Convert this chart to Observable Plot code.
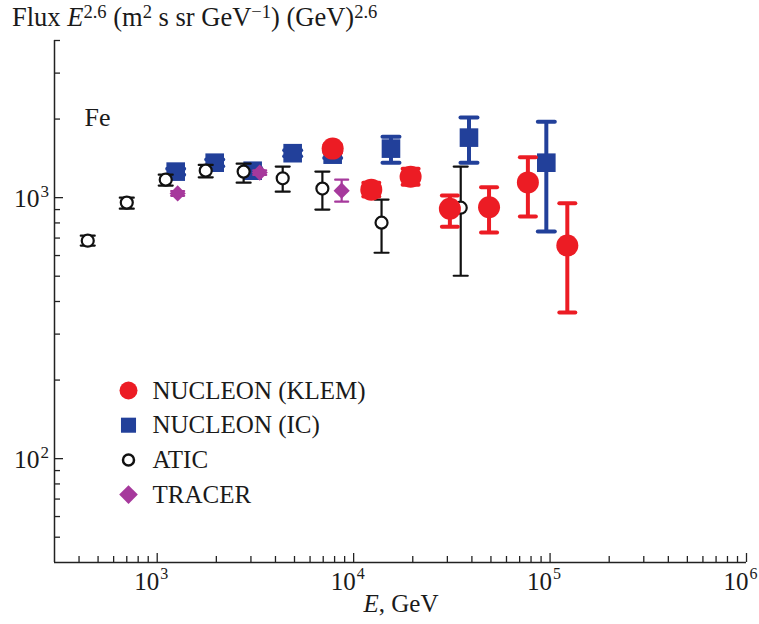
<!DOCTYPE html>
<html><head><meta charset="utf-8">
<script src="https://cdn.jsdelivr.net/npm/d3@7"></script>
<script src="https://cdn.jsdelivr.net/npm/@observablehq/plot@0.6"></script>
<style>
body{margin:0;background:#fff;}
#wrap{position:relative;width:759px;height:624px;font-family:"Liberation Serif",serif;color:#1a1a1a;overflow:hidden;}
#chart svg{display:block;}
#title{position:absolute;left:12px;top:4px;font-size:26.5px;line-height:1;white-space:nowrap;}
#xlabel{position:absolute;left:401px;top:591px;transform:translateX(-50%);font-size:25px;line-height:1;white-space:nowrap;}
sup{font-size:0.7em;vertical-align:0.45em;line-height:0;}
</style></head><body>
<div id="wrap">
 <div id="chart"></div>
 <div id="title">Flux <i>E</i><sup>2.6</sup> (m<sup>2</sup> s sr GeV<sup>−1</sup>) (GeV)<sup>2.6</sup></div>
 <div id="xlabel"><i>E</i>, GeV</div>
</div>
<script>
// NUCLEON (KLEM)
const klemE  = [7820, 12300, 19500, 30900, 48900, 77100, 122400];
const klemF  = [1541, 1073, 1203, 907, 918, 1144, 655];
const klemHi = [1600, 1140, 1290, 1018, 1095, 1427, 951];
const klemLo = [1480, 1010, 1120, 774, 736, 846, 363];
// NUCLEON (IC)
const icE  = [1242, 1962, 3061, 4893, 7820, 15490, 38650, 95700];
const icF  = [1258, 1361, 1268, 1480, 1461, 1541, 1698, 1361];
const icHi = [1290, 1400, 1300, 1520, 1500, 1713, 2026, 1954];
const icLo = [1225, 1320, 1235, 1440, 1420, 1361, 1361, 741];
// ATIC
const aticE  = [443, 700, 1105, 1766, 2754, 4354, 6932, 13870, 35090];
const aticF  = [684, 957, 1172, 1269, 1258, 1186, 1083, 802, 915];
const aticHi = [715, 1000, 1225, 1335, 1349, 1315, 1258, 983, 1315];
const aticLo = [655, 907, 1112, 1196, 1141, 1054, 900, 615, 502];
// TRACER
const tracerE  = [1271, 3325, 8690];
const tracerF  = [1038, 1247, 1063];
const tracerHi = [1060, 1272, 1172];
const tracerLo = [1016, 1222, 965];

const legendLabels = ["NUCLEON (KLEM)", "NUCLEON (IC)", "ATIC", "TRACER"];
const xMajor = [1e3, 1e4, 1e5, 1e6];
const xMajorExp = ["3", "4", "5", "6"];
const xMinor = [400,500,600,700,800,900, 2000,3000,4000,5000,6000,7000,8000,9000,
  2e4,3e4,4e4,5e4,6e4,7e4,8e4,9e4, 2e5,3e5,4e5,5e5,6e5,7e5,8e5,9e5];
const yMajor = [100, 1000];
const yMajorExp = ["2", "3"];
const yMinor = [50,60,70,80,90, 200,300,400,500,600,700,800,900, 2000,3000,4000];

const rows = (E, F, hi, lo) => E.map((e, i) => ({E: e, F: F[i], hi: hi[i], lo: lo[i]}));
const klem = rows(klemE, klemF, klemHi, klemLo);
const ic = rows(icE, icF, icHi, icLo);
const atic = rows(aticE, aticF, aticHi, aticLo);
const tracer = rows(tracerE, tracerF, tracerHi, tracerLo);

const RED = "#ec1c24", BLUE = "#22409a", PURPLE = "#a6399c", BLACK = "#111";
const cap = {draw(ctx, size) { const w = Math.sqrt(size / Math.PI); ctx.moveTo(-w, 0); ctx.lineTo(w, 0); }};

function errs(data, color, sw, capR) {
  return [
    Plot.ruleX(data, {x: "E", y1: "lo", y2: "hi", stroke: color, strokeWidth: sw}),
    Plot.dot(data, {x: "E", y: "hi", symbol: cap, r: capR, stroke: color, strokeWidth: sw, fill: "none", strokeLinecap: "round"}),
    Plot.dot(data, {x: "E", y: "lo", symbol: cap, r: capR, stroke: color, strokeWidth: sw, fill: "none", strokeLinecap: "round"})
  ];
}

const legendStyles = [
  {symbol: "circle", r: 9, fill: RED, stroke: "none"},
  {symbol: "square", r: 8.5, fill: BLUE, stroke: "none"},
  {symbol: "circle", r: 5.5, fill: "white", stroke: BLACK, strokeWidth: 2.5},
  {symbol: "diamond2", r: 8.4, fill: PURPLE, stroke: "none"}
];
const legendMarks = legendLabels.flatMap((lab, i) => [
  Plot.dot([lab], {frameAnchor: "top-left", dx: 74, dy: 350 + i * 34.7, ...legendStyles[i]}),
  Plot.text([lab], {text: d => d, frameAnchor: "top-left", dx: 98, dy: 350 + i * 34.7, textAnchor: "start", lineAnchor: "middle", fontSize: 25, fill: "#1a1a1a"})
]);

const chart = Plot.plot({
  width: 759, height: 624,
  marginLeft: 54, marginRight: 13, marginTop: 40, marginBottom: 62,
  style: {fontFamily: "'Liberation Serif', serif", fontSize: "24px", color: "#1a1a1a", background: "white", overflow: "visible"},
  x: {type: "log", domain: [300, 1e6], axis: null, label: null},
  y: {type: "log", domain: [40, 4000], axis: null, label: null},
  marks: [
    Plot.axisX(xMinor, {anchor: "bottom", tickSize: -6, tickFormat: () => "", label: null, stroke: "#222", strokeWidth: 1.3}),
    Plot.axisX(xMajor, {anchor: "bottom", tickSize: -9, tickFormat: () => "", label: null, stroke: "#222", strokeWidth: 1.3}),
    Plot.axisY(yMinor, {anchor: "left", tickSize: -6, tickFormat: () => "", label: null, stroke: "#222", strokeWidth: 1.3}),
    Plot.axisY(yMajor, {anchor: "left", tickSize: -9, tickFormat: () => "", label: null, stroke: "#222", strokeWidth: 1.3}),
    Plot.ruleX([300], {stroke: "#222", strokeWidth: 1.5}),
    Plot.ruleY([40], {stroke: "#222", strokeWidth: 1.5}),
    Plot.text(xMajor, {x: d => d, text: () => "10", frameAnchor: "bottom", dy: 19, dx: 2, textAnchor: "end", lineAnchor: "middle", fontSize: 25}),
    Plot.text(xMajor, {x: d => d, text: (d, i) => xMajorExp[i], frameAnchor: "bottom", dy: 11, dx: 3, textAnchor: "start", lineAnchor: "middle", fontSize: 16}),
    Plot.text(yMajor, {y: d => d, text: () => "10", frameAnchor: "left", dx: -15, dy: 1, textAnchor: "end", lineAnchor: "middle", fontSize: 25.5}),
    Plot.text(yMajor, {y: d => d, text: (d, i) => yMajorExp[i], frameAnchor: "left", dx: -14, dy: -6, textAnchor: "start", lineAnchor: "middle", fontSize: 17}),
    Plot.text(["Fe"], {text: d => d, frameAnchor: "top-left", dx: 30, dy: 77, textAnchor: "start", lineAnchor: "middle", fontSize: 26}),
    // NUCLEON (IC)
    ...errs(ic, BLUE, 4, 8.5),
    Plot.dot(ic, {x: "E", y: "F", symbol: "square", r: 10.5, fill: BLUE}),
    // ATIC
    ...errs(atic, BLACK, 2.2, 7),
    Plot.dot(atic, {x: "E", y: "F", symbol: "circle", r: 6, fill: "white", stroke: BLACK, strokeWidth: 2.2}),
    // TRACER
    ...errs(tracer, PURPLE, 2.2, 6.5),
    Plot.dot(tracer, {x: "E", y: "F", symbol: "diamond2", r: 7.3, fill: PURPLE}),
    // NUCLEON (KLEM)
    ...errs(klem, RED, 4, 8),
    Plot.dot(klem, {x: "E", y: "F", symbol: "circle", r: 11, fill: RED}),
    ...legendMarks
  ]
});
document.getElementById("chart").appendChild(chart);
</script>
</body></html>
